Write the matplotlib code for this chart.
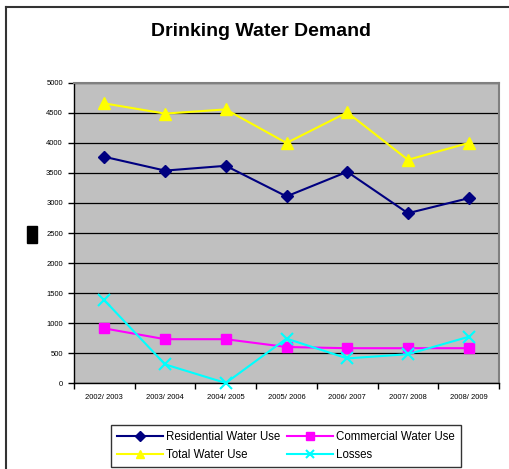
import matplotlib
matplotlib.use('Agg')
import matplotlib.pyplot as plt
from matplotlib.patches import Rectangle
from matplotlib.lines import Line2D

plt.rcParams['font.family'] = ['Liberation Sans', 'DejaVu Sans']

years = ['2002/ 2003', '2003/ 2004', '2004/ 2005', '2005/ 2006',
         '2006/ 2007', '2007/ 2008', '2008/ 2009']
residential = [3770, 3540, 3620, 3110, 3520, 2830, 3080]
commercial = [910, 730, 730, 600, 580, 580, 580]
total = [4660, 4490, 4560, 4000, 4510, 3720, 4000]
losses = [1380, 310, 0, 740, 410, 480, 770]

fig = plt.figure(figsize=(5.09, 4.69), dpi=100)
ax = fig.add_axes([74/509, 86/469, 425/509, 300/469])
ax.set_facecolor('#C0C0C0')

x = list(range(len(years)))
ax.plot(x, residential, color='#000080', marker='D', markersize=6, lw=1.5,
        label='Residential Water Use', clip_on=False, zorder=3)
ax.plot(x, commercial, color='#FF00FF', marker='s', markersize=7, lw=1.5,
        label='Commercial Water Use', clip_on=False, zorder=3)
ax.plot(x, total, color='#FFFF00', marker='^', markersize=8, lw=1.5,
        label='Total Water Use', clip_on=False, zorder=3)
ax.plot(x, losses, color='#00FFFF', marker='x', markersize=8, mew=1.5, lw=1.5,
        label='Losses', clip_on=False, zorder=3)

ax.set_xlim(-0.5, len(years) - 0.5)
ax.set_ylim(0, 5000)
ax.set_yticks(range(0, 5001, 500))
ax.yaxis.grid(True, color='black', lw=0.9)
ax.set_axisbelow(True)

ax.set_xticks([i - 0.5 for i in range(len(years) + 1)])
ax.set_xticklabels([])
ax.set_xticks(x, minor=True)
ax.set_xticklabels(years, minor=True, fontsize=5.5)
ax.tick_params(axis='x', which='minor', length=0, pad=8)
ax.tick_params(axis='x', which='major', length=4, width=1, direction='out')
ax.tick_params(axis='y', length=4, width=1, labelsize=5.5, pad=4)

for s in ['top', 'right']:
    ax.spines[s].set_color('#808080')
    ax.spines[s].set_linewidth(1.5)
for s in ['left', 'bottom']:
    ax.spines[s].set_color('black')
    ax.spines[s].set_linewidth(1)

fig.text(261/509, 1 - 31/469, 'Drinking Water Demand', ha='center', va='center',
         fontsize=14, fontweight='bold')

# black box where the y label sits
fig.patches.append(Rectangle((27/509, 1 - 243/469), 10/509, 17/469,
                             transform=fig.transFigure, color='black'))

# outer chart border (top and left only visible)
fig.add_artist(Line2D([6/509, 1], [1 - 7/469, 1 - 7/469], transform=fig.transFigure,
                      color='#333333', lw=1.5))
fig.add_artist(Line2D([6/509, 6/509], [0, 1 - 7/469], transform=fig.transFigure,
                      color='#333333', lw=1.5))

h, l = ax.get_legend_handles_labels()
order = [0, 2, 1, 3]
leg = fig.legend([h[i] for i in order], [l[i] for i in order], ncol=2,
                 loc='upper left', bbox_to_anchor=(111/509, 1 - 425/469),
                 borderaxespad=0, fontsize=8.3, frameon=True, fancybox=False,
                 handlelength=4.0, columnspacing=0.55, borderpad=0.5,
                 labelspacing=0.55, handletextpad=0.3, markerscale=0.8)
leg.get_frame().set_edgecolor('black')
leg.get_frame().set_linewidth(1)

fig.savefig('out.png', dpi=100)
